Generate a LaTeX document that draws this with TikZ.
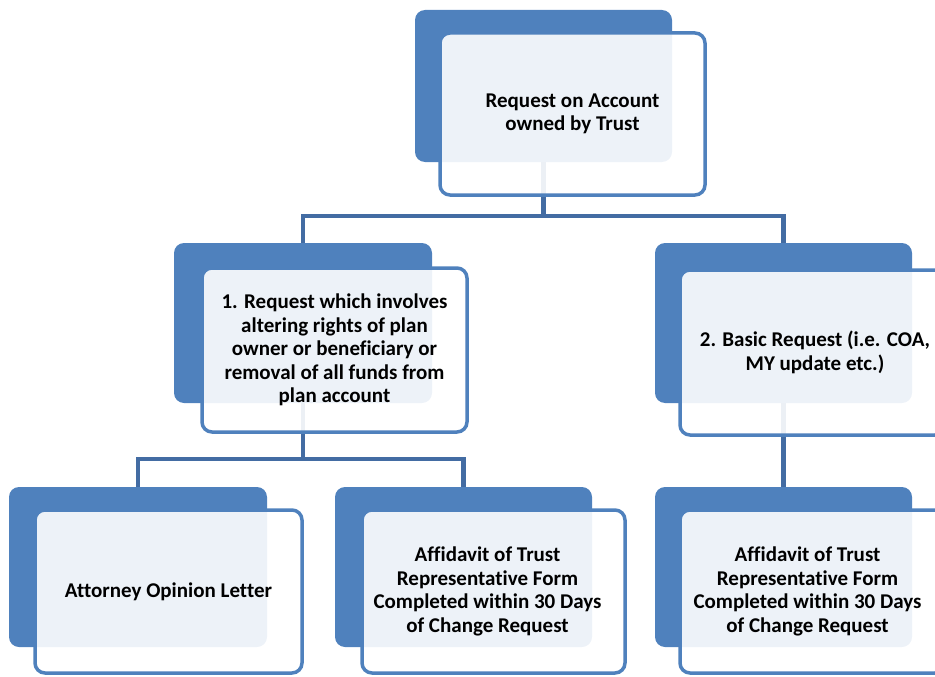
\documentclass[tikz,border=0pt]{standalone}
\usepackage{fontspec}
\setmainfont{Carlito}[Ligatures=NoCommon]
\definecolor{backblue}{HTML}{4F81BD}
\definecolor{linkblue}{HTML}{436CA3}
\begin{document}
\begin{tikzpicture}[x=1pt,y=-1pt,
  backbox/.style={draw=none,fill=backblue,rounded corners=10pt,minimum width=#1,inner sep=0pt},
  frontbox/.style={draw=backblue,line width=3.5pt,fill=white,fill opacity=0.9,text opacity=1,
     rounded corners=10pt,inner sep=0pt,align=center,
     font=\fontsize{21}{23.5}\selectfont\bfseries},
  link/.style={draw=linkblue,line width=4.5pt}]
\useasboundingbox (0,0) rectangle (935,677);
\clip (0,0) rectangle (935,677);
% back boxes
\node[backbox=257pt,minimum height=152pt] (b0) at (543.5,86) {};
\node[backbox=258pt,minimum height=160pt] (b1) at (303,323) {};
\node[backbox=257pt,minimum height=160pt] (b2) at (783.5,323) {};
\node[backbox=258pt,minimum height=160pt] (b3) at (138,567) {};
\node[backbox=257pt,minimum height=160pt] (b4) at (463.5,567) {};
\node[backbox=257pt,minimum height=160pt] (b5) at (783.5,567) {};
% connectors (behind front boxes)
\coordinate (bar0) at (543.5,216);
\coordinate (bar1) at (303,459);
\draw[link] (b0.south) -- (bar0);
\draw[link] (b1.north) |- (bar0) -| (b2.north);
\draw[link] (b1.south) -- (bar1);
\draw[link] (b3.north) |- (bar1) -| (b4.north);
\draw[link] (b2.south) -- (b5.north);
% front boxes
\node[frontbox,minimum width=265pt,minimum height=162pt] (f0) at (572.5,114)
  {Request on Account\\owned by Trust};
\node[frontbox,minimum width=265pt,minimum height=164pt] (f1) at (334.5,350)
  {1. Request which involves\\altering rights of plan\\owner or beneficiary or\\removal of all funds from\\plan account};
\node[frontbox,minimum width=265pt,minimum height=165pt] (f2) at (812.5,352.5)
  {\hspace*{5pt}2. Basic Request (i.e. COA,\\\hspace*{5pt}MY update etc.)};
\node[frontbox,minimum width=267pt,minimum height=163pt] (f3) at (168.5,591.5)
  {Attorney Opinion Letter};
\node[frontbox,minimum width=263pt,minimum height=163pt] (f4) at (493.5,591.5)
  {\hspace*{-12pt}Affidavit of Trust\\\hspace*{-12pt}Representative Form\\\hspace*{-12pt}Completed within 30 Days\\\hspace*{-12pt}of Change Request};
\node[frontbox,minimum width=265pt,minimum height=163pt] (f5) at (812.5,591.5)
  {\hspace*{-10pt}Affidavit of Trust\\\hspace*{-10pt}Representative Form\\\hspace*{-10pt}Completed within 30 Days\\\hspace*{-10pt}of Change Request};
\end{tikzpicture}
\end{document}
